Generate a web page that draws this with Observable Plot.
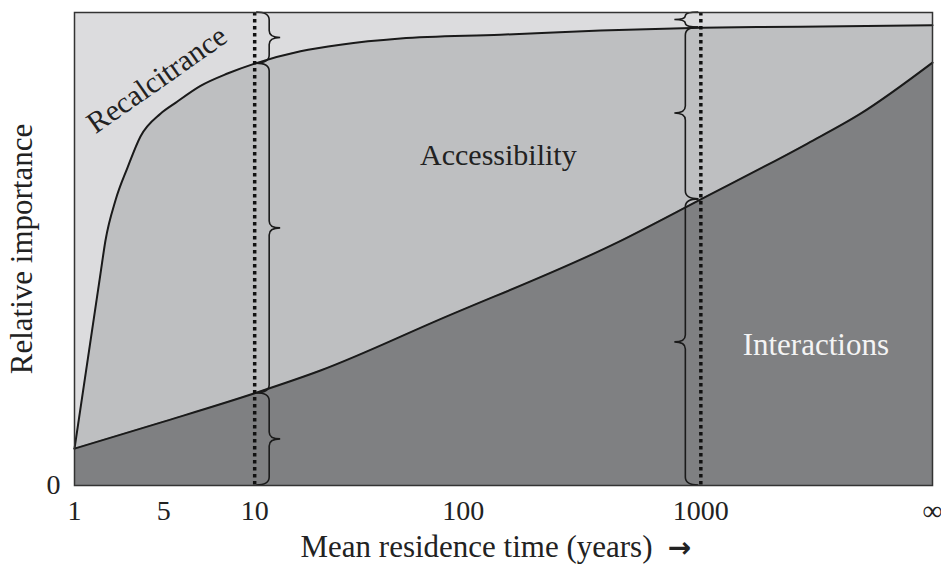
<!DOCTYPE html>
<html>
<head>
<meta charset="utf-8">
<script src="https://cdn.jsdelivr.net/npm/d3@7"></script>
<script src="https://cdn.jsdelivr.net/npm/@observablehq/plot@0.6"></script>
<style>
  html, body { margin: 0; padding: 0; background: #fff; }
  #chart svg { display: block; }
</style>
</head>
<body>
<div id="chart"></div>
<script>
// Position along the (non-uniform) residence-time axis, 0 = "1", 100 = "∞"
const tickLabels = ["1", "5", "10", "100", "1000", "∞"];
const tickPos    = [0, 10.4, 21.0, 45.3, 73.0, 100];

// Upper boundary (Accessibility / Recalcitrance), relative importance 0–1
const upperX = [0, 3.03, 3.61, 4.78, 6.18, 7.69, 10.02, 11.77, 14.69, 17.83, 21.0, 26.34, 31.0, 37.99, 49.65, 61.31, 73.0, 84.62, 100];
const upperY = [0.078, 0.448, 0.518, 0.603, 0.672, 0.738, 0.786, 0.809, 0.845, 0.871, 0.892, 0.918, 0.932, 0.945, 0.953, 0.962, 0.968, 0.970, 0.973];

// Lower boundary (Interactions / Accessibility)
const lowerX = [0, 10.02, 21.0, 28.67, 42.31, 63.29, 73.0, 85.43, 91.61, 100];
const lowerY = [0.078, 0.133, 0.195, 0.243, 0.349, 0.514, 0.605, 0.723, 0.786, 0.894];

// Marked residence times (10 and 1000 years)
const markerLabels = ["10", "1000"];

// Region labels
const regionNames = ["Recalcitrance", "Accessibility", "Interactions"];
const regionX = [9.6, 49.4, 86.4];
const regionY = [0.858, 0.698, 0.296];

const upper = upperX.map((x, i) => ({x, y: upperY[i]}));
const lower = lowerX.map((x, i) => ({x, y: lowerY[i]}));
const markers = markerLabels.map(l => tickPos[tickLabels.indexOf(l)]);
const lookup = (xs, ys, x) => ys[xs.indexOf(x)];
const braces = [];
markers.forEach((m, k) => {
  const lo = lookup(lowerX, lowerY, m), up = lookup(upperX, upperY, m);
  const dir = k === 0 ? 1 : -1;
  [[0, lo], [lo, up], [up, 1]].forEach(([a, b]) => braces.push({x: m, y1: a, y2: b, dir}));
});
const regions = regionNames.map((name, i) => ({name, x: regionX[i], y: regionY[i]}));

const FONT = "'Liberation Serif', 'DejaVu Serif', serif";
const C_TOP = "#dcdcde", C_MID = "#bebfc1", C_BOT = "#7f8082";

function braceMark(index, scales) {
  const g = d3.create("svg:g").attr("fill", "none").attr("stroke", "#1a1a1a").attr("stroke-width", 1.6);
  for (const b of braces) {
    const xd = scales.x(b.x);
    const d = b.dir;
    const x0 = xd + d * 15;
    const top = Math.min(scales.y(b.y1), scales.y(b.y2));
    const bot = Math.max(scales.y(b.y1), scales.y(b.y2));
    const h = bot - top;
    const r = Math.min(8, h / 4);
    const ym = (top + bot) / 2;
    const t = Math.min(7, h / 4);
    const path = [
      `M${xd + d * 2},${top}`,
      `Q${x0},${top} ${x0},${top + r}`,
      `L${x0},${ym - t}`,
      `Q${x0},${ym} ${x0 + d * 11},${ym}`,
      `Q${x0},${ym} ${x0},${ym + t}`,
      `L${x0},${bot - r}`,
      `Q${x0},${bot} ${xd + d * 2},${bot}`
    ].join(" ");
    g.append("path").attr("d", path);
  }
  return g.node();
}

const chart = Plot.plot({
  width: 941,
  height: 567,
  marginLeft: 74,
  marginRight: 9,
  marginTop: 12,
  marginBottom: 82,
  style: {background: "#fff", fontFamily: FONT, color: "#222"},
  x: {domain: [0, 100], axis: null},
  y: {domain: [0, 1], axis: null},
  marks: [
    Plot.frame({fill: C_MID}),
    Plot.areaY(upper, {x: "x", y1: "y", y2: 1, fill: C_TOP, curve: "monotone-x"}),
    Plot.areaY(lower, {x: "x", y1: 0, y2: "y", fill: C_BOT, curve: "monotone-x"}),
    Plot.line(upper, {x: "x", y: "y", stroke: "#1a1a1a", strokeWidth: 2, curve: "monotone-x"}),
    Plot.line(lower, {x: "x", y: "y", stroke: "#1a1a1a", strokeWidth: 2, curve: "monotone-x"}),
    Plot.ruleX(markers, {stroke: "#111", strokeWidth: 3.5, strokeDasharray: "3.5,3.5"}),
    braceMark,
    Plot.text(regions.slice(0, 1), {x: "x", y: "y", text: "name", rotate: -35, fontSize: 30, fill: "#222", fontFamily: FONT}),
    Plot.text(regions.slice(1, 2), {x: "x", y: "y", text: "name", fontSize: 30, fill: "#222", fontFamily: FONT}),
    Plot.text(regions.slice(2, 3), {x: "x", y: "y", text: "name", fontSize: 31, fill: "#f4f4f4", fontFamily: FONT}),
    Plot.frame({stroke: "#333", strokeWidth: 1.5}),
    Plot.axisX(tickPos, {tickSize: 0, tickPadding: 0, dy: 15, fontSize: 28, fontFamily: FONT, fill: "#222",
      tickFormat: (d) => tickLabels[tickPos.indexOf(d)], label: null}),
    Plot.axisY([0], {tickSize: 0, tickPadding: 0, dx: -14, fontSize: 28, fontFamily: FONT, fill: "#222", tickFormat: d => "0", label: null}),
    Plot.text(["Mean residence time (years)"], {frameAnchor: "bottom", dx: -27, dy: 71, fontSize: 31, fontFamily: FONT, fill: "#222"}),
    Plot.text(["→"], {frameAnchor: "bottom", dx: 176, dy: 71, fontSize: 28, fontWeight: "bold", fontFamily: "'DejaVu Sans', sans-serif", fill: "#222"}),
    Plot.text(["Relative importance"], {frameAnchor: "left", textAnchor: "middle", rotate: -90, dx: -52, fontSize: 31, fontFamily: FONT, fill: "#222"})
  ]
});
document.getElementById("chart").appendChild(chart);
</script>
</body>
</html>
